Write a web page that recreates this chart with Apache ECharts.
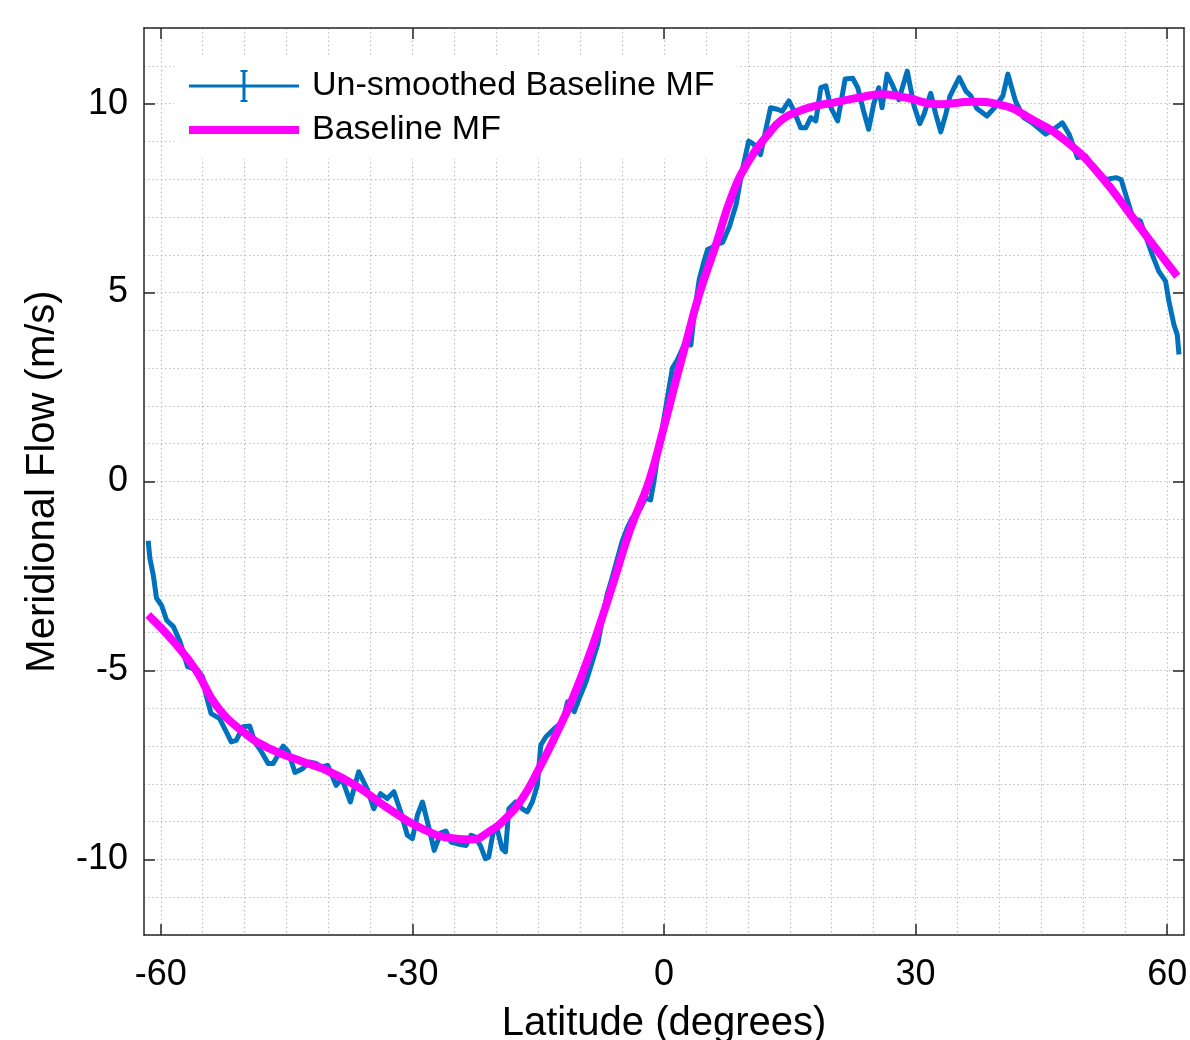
<!DOCTYPE html>
<html>
<head>
<meta charset="utf-8">
<title>Meridional Flow vs Latitude</title>
<script src="https://cdn.jsdelivr.net/npm/echarts@6/dist/echarts.min.js"></script>
<style>
  html, body { margin: 0; padding: 0; background: #ffffff; }
  #chart { width: 1190px; height: 1040px; }
</style>
</head>
<body>
<div id="chart"></div>
<script>
// Un-smoothed baseline meridional flow (latitude in degrees, flow in m/s)
const rawLat = [
  -61.5, -61.3, -60.9, -60.5, -59.9, -59.3, -58.5, -57.7, -56.8, -55.6,
  -55.0, -54.6, -54.0, -53.0, -52.2, -51.6, -51.0, -50.2, -49.4, -48.8,
  -48.0, -47.2, -46.6, -45.4, -44.8, -44.0, -43.1, -42.3, -41.5, -40.8,
  -40.1, -39.1, -38.4, -37.4, -36.4, -35.4, -34.6, -33.8, -33.0, -32.2,
  -31.4, -30.6, -30.0, -29.4, -28.8, -28.0, -27.4, -26.6, -26.0, -25.4,
  -24.4, -23.6, -23.0, -22.5, -21.9, -21.3, -20.9, -20.3, -19.9, -19.3,
  -18.9, -18.5, -17.7, -16.9, -16.3, -15.7, -15.1, -14.7, -14.1, -13.1,
  -12.1, -11.5, -10.7, -10.1, -9.3, -8.6, -7.9, -6.8, -6.2, -5.0,
  -4.4, -3.8, -2.8, -2.2, -1.6, -1.2, -0.8, -0.4, 0.4, 1.0,
  1.6, 2.6, 3.2, 3.6, 4.2, 4.8, 5.2, 5.6, 6.2, 7.0,
  7.8, 8.6, 9.3, 10.1, 10.7, 11.5, 12.1, 12.7, 13.5, 14.1,
  14.9, 15.5, 16.3, 16.9, 17.5, 18.1, 18.7, 19.3, 19.9, 20.7,
  21.6, 22.5, 23.1, 23.8, 24.4, 25.0, 25.6, 26.0, 26.6, 27.2,
  28.0, 29.0, 29.8, 30.5, 31.0, 31.8, 32.4, 33.0, 33.6, 34.1,
  34.6, 35.2, 36.0, 36.6, 37.3, 38.5, 39.4, 40.4, 41.0, 41.9,
  42.9, 43.9, 45.5, 46.7, 47.5, 48.3, 49.3, 50.3, 51.5, 52.7,
  53.9, 54.5, 55.9, 56.8, 58.2, 59.0, 59.8, 60.2, 60.8, 61.2,
  61.4
];
const rawFlow = [
  -1.57, -2.03, -2.47, -3.09, -3.28, -3.67, -3.84, -4.24, -4.90, -4.99,
  -5.17, -5.65, -6.14, -6.27, -6.62, -6.89, -6.85, -6.49, -6.47, -6.89,
  -7.15, -7.46, -7.46, -7.00, -7.15, -7.70, -7.60, -7.42, -7.46, -7.55,
  -7.51, -8.04, -7.86, -8.48, -7.68, -8.13, -8.66, -8.26, -8.39, -8.21,
  -8.74, -9.36, -9.45, -8.83, -8.48, -9.19, -9.76, -9.30, -9.25, -9.54,
  -9.60, -9.63, -9.36, -9.41, -9.63, -9.98, -9.94, -9.19, -9.19, -9.72,
  -9.80, -8.66, -8.48, -8.66, -8.74, -8.48, -8.04, -6.98, -6.76, -6.54,
  -6.36, -5.83, -6.09, -5.74, -5.30, -4.80, -4.30, -3.00, -2.56, -1.59,
  -1.24, -0.97, -0.71, -0.44, -0.49, 0.00, 0.62, 1.15, 2.21, 3.00,
  3.22, 3.71, 3.61, 4.42, 5.35, 5.85, 6.14, 6.18, 6.27, 6.33,
  6.75, 7.33, 8.21, 9.01, 8.92, 8.65, 9.27, 9.89, 9.85, 9.80,
  10.07, 9.80, 9.36, 9.36, 9.63, 9.54, 10.42, 10.47, 9.89, 9.54,
  10.65, 10.67, 10.42, 9.80, 9.32, 9.98, 10.42, 9.89, 10.78, 10.51,
  10.10, 10.86, 9.95, 9.47, 9.72, 10.27, 9.72, 9.25, 9.72, 10.20,
  10.42, 10.69, 10.33, 10.20, 9.87, 9.67, 9.89, 10.20, 10.78, 10.07,
  9.63, 9.49, 9.19, 9.36, 9.49, 9.19, 8.57, 8.61, 8.21, 7.99,
  8.04, 7.99, 6.98, 6.89, 6.01, 5.56, 5.30, 4.77, 4.15, 3.88,
  3.36
];

// Smoothed baseline meridional flow
const smoothLat = [
  -61.5, -58.1, -55.7, -53.4, -50.2, -47.0, -43.0, -40.7, -36.8, -32.8,
  -28.8, -24.8, -22.9, -20.9, -18.9, -16.9, -14.9, -12.9, -10.9, -8.9,
  -7.75, -6.0, -4.0, -1.8, 0.0, 1.4, 2.6, 4.2, 6.2, 8.15,
  10.1, 12.1, 14.1, 16.1, 18.1, 20.1, 23.3, 26.0, 28.8, 32.8,
  36.8, 39.9, 43.9, 47.9, 51.9, 55.9, 58.6, 61.2
];
const smoothFlow = [
  -3.53, -4.33, -5.03, -5.92, -6.62, -7.07, -7.42, -7.60, -8.04, -8.66,
  -9.19, -9.45, -9.47, -9.27, -8.92, -8.39, -7.60, -6.71, -5.74, -4.59,
  -3.85, -2.65, -1.25, 0.00, 1.45, 2.65, 3.65, 4.95, 6.27, 7.60,
  8.48, 9.10, 9.58, 9.80, 9.94, 10.02, 10.16, 10.25, 10.16, 9.98,
  10.05, 9.98, 9.58, 9.01, 8.13, 6.98, 6.18, 5.43
];

// Axis ticks and grid positions
const xMajorTicks = [-60, -30, 0, 30, 60];
const xGridTicks = [-60, -55, -50, -45, -40, -35, -30, -25, -20, -15, -10, -5, 0, 5, 10, 15, 20, 25, 30, 35, 40, 45, 50, 55, 60];
const yMajorTicks = [-10, -5, 0, 5, 10];

const seriesNames = ['Un-smoothed Baseline MF', 'Baseline MF'];

const FONT = '"Liberation Sans", Arial, Helvetica, sans-serif';
const AXIS_COLOR = '#262626';
const BLUE = '#0072BD';
const MAGENTA = '#FF00FF';

const pairs = (xs, ys) => xs.map((x, i) => [x, ys[i]]);

const chart = echarts.init(document.getElementById('chart'), null, { renderer: 'canvas' });

const boxAxisLine = { show: true, onZero: false, lineStyle: { color: AXIS_COLOR, width: 1.5 } };
const hiddenAxisLine = { show: false, onZero: false };
const boxTick = (values) => ({
  show: true, inside: true, length: 11, customValues: values,
  lineStyle: { color: AXIS_COLOR, width: 1.5 }
});
const dottedGrid = {
  show: true,
  lineStyle: { color: '#bababa', width: 1.2, type: [1.4, 2.8] }
};

chart.setOption({
  backgroundColor: '#ffffff',
  animation: false,
  grid: {
    left: 144, right: 6, top: 28, bottom: 105,
    containLabel: false,
    outerBoundsMode: 'none'
  },
  legend: {
    orient: 'vertical',
    left: 174,
    top: 57,
    padding: [12, 23, 12, 15],
    itemGap: 10,
    itemWidth: 110,
    itemHeight: 32,
    backgroundColor: '#ffffff',
    selectedMode: false,
    textStyle: { fontFamily: FONT, fontSize: 34, color: '#000000', padding: [3, 0, 0, 8] },
    data: [
      {
        name: seriesNames[0],
        icon: 'path://M0,14.6H110V17.4H0Z M53.5,0H56.5V32H53.5Z M51.5,0H58.5V2H51.5Z M51.5,30H58.5V32H51.5Z',
        itemStyle: { color: BLUE, borderWidth: 0 }
      },
      {
        name: seriesNames[1],
        icon: 'path://M0,0H110V8H0Z',
        itemStyle: { color: MAGENTA, borderWidth: 0 }
      }
    ]
  },
  xAxis: [
    {
      type: 'value', min: -62, max: 62, position: 'bottom',
      name: 'Latitude (degrees)', nameLocation: 'middle', nameGap: 69,
      nameTextStyle: { fontFamily: FONT, fontSize: 40, color: '#000000' },
      axisLine: boxAxisLine,
      axisTick: boxTick(xMajorTicks),
      axisLabel: { customValues: xMajorTicks, fontFamily: FONT, fontSize: 36, color: '#000000', margin: 22 },
      splitLine: { show: false }
    },
    {
      type: 'value', min: -62, max: 62, position: 'top',
      axisLine: boxAxisLine,
      axisTick: boxTick(xMajorTicks),
      axisLabel: { show: false },
      splitLine: { show: false }
    },
    {
      type: 'value', min: -62, max: 62, position: 'bottom',
      axisLine: hiddenAxisLine,
      axisTick: { show: false, customValues: xGridTicks },
      axisLabel: { show: false },
      splitLine: dottedGrid
    }
  ],
  yAxis: [
    {
      type: 'value', min: -12, max: 12, position: 'left',
      name: 'Meridional Flow (m/s)', nameLocation: 'middle', nameGap: 81,
      nameTextStyle: { fontFamily: FONT, fontSize: 40, color: '#000000' },
      axisLine: boxAxisLine,
      axisTick: boxTick(yMajorTicks),
      axisLabel: { customValues: yMajorTicks, fontFamily: FONT, fontSize: 36, color: '#000000', margin: 16 },
      splitLine: { show: false }
    },
    {
      type: 'value', min: -12, max: 12, position: 'right',
      axisLine: boxAxisLine,
      axisTick: boxTick(yMajorTicks),
      axisLabel: { show: false },
      splitLine: { show: false }
    },
    {
      type: 'value', min: -12, max: 12, interval: 1, position: 'left',
      axisLine: hiddenAxisLine,
      axisTick: { show: false },
      axisLabel: { show: false },
      splitLine: dottedGrid
    }
  ],
  series: [
    {
      name: seriesNames[0],
      type: 'line',
      xAxisIndex: 0, yAxisIndex: 0,
      data: pairs(rawLat, rawFlow),
      showSymbol: false,
      symbol: 'none',
      color: BLUE,
      lineStyle: { color: BLUE, width: 5, join: 'round' },
      z: 3
    },
    {
      name: seriesNames[1],
      type: 'line',
      xAxisIndex: 0, yAxisIndex: 0,
      data: pairs(smoothLat, smoothFlow),
      smooth: 0.5,
      showSymbol: false,
      symbol: 'none',
      color: MAGENTA,
      lineStyle: { color: MAGENTA, width: 8, cap: 'butt' },
      z: 4
    }
  ]
});
</script>
</body>
</html>
